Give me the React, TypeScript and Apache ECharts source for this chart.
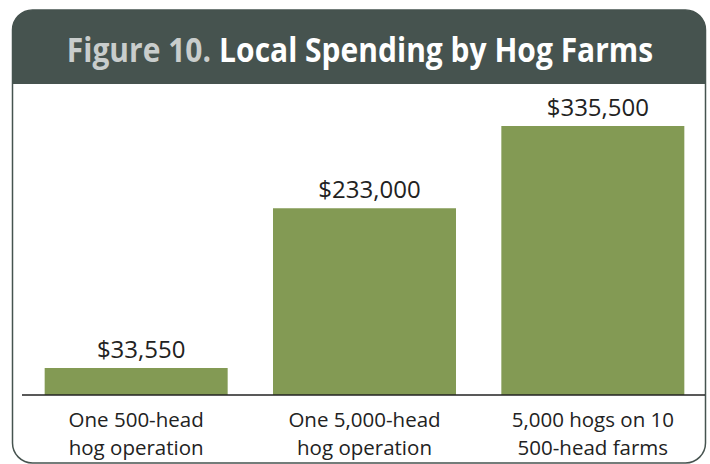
import React, { useEffect, useRef } from "react";
import * as echarts from "echarts";

const categories = ["One 500-head\nhog operation", "One 5,000-head\nhog operation", "5,000 hogs on 10\n500-head farms"];
const values = [33550, 233000, 335500];
const titlePrefix = "Figure 10.";
const titleMain = "Local Spending by Hog Farms";

const fmt = (v: number) => "$" + v.toLocaleString("en-US");

export default function App() {
  const ref = useRef<HTMLDivElement>(null);
  useEffect(() => {
    const chart = echarts.init(ref.current!, null, { renderer: "svg" });
    const dark = "#46534f";
    chart.setOption({
      animation: false,
      backgroundColor: "#ffffff",
      grid: { left: 22, right: 3, top: 126, bottom: 69 },
      xAxis: {
        type: "category",
        data: categories,
        axisLine: { show: false },
        axisTick: { show: false },
        axisLabel: {
          color: "#222222",
          fontFamily: "Open Sans",
          fontSize: 20.5,
          lineHeight: 28,
          margin: 10,
          interval: 0,
        },
      },
      yAxis: {
        type: "value",
        min: 0,
        max: 335500,
        show: false,
        splitLine: { show: false },
      },
      series: [
        {
          type: "bar",
          data: values,
          barWidth: 183,
          itemStyle: { color: "#839a54" },
          label: {
            show: true,
            position: "top",
            distance: 8,
            offset: [5, 0],
            color: "#222222",
            fontFamily: "Open Sans",
            fontSize: 24,
            formatter: (p: any) => fmt(p.value),
          },
        },
      ],
      graphic: [
        {
          type: "rect",
          shape: { x: 12.5, y: 10, width: 693, height: 74, r: [20, 20, 0, 0] },
          style: { fill: dark },
          z: 10,
        },
        {
          type: "rect",
          shape: { x: 12.5, y: 10, width: 693, height: 453, r: 20 },
          style: { fill: "none", stroke: dark, lineWidth: 1.5 },
          z: 11,
        },
        {
          type: "line",
          shape: { x1: 22, y1: 395, x2: 705, y2: 395 },
          style: { stroke: "#222222", lineWidth: 1.5 },
          z: 12,
        },
        {
          type: "text",
          x: 360,
          y: 48,
          scaleY: 1.15,
          z: 13,
          style: {
            text: "{a|" + titlePrefix + "}{s| }{b|" + titleMain + "}",
            align: "center",
            verticalAlign: "middle",
            rich: {
              a: { fontFamily: "Open Sans", fontWeight: "bold", fontSize: 30, fill: "#c9cdcc" },
              s: { fontFamily: "Open Sans", fontWeight: "bold", fontSize: 30, width: 8 },
              b: { fontFamily: "Open Sans", fontWeight: "bold", fontSize: 30, fill: "#ffffff" },
            },
          },
        },
      ],
    });
    return () => chart.dispose();
  }, []);
  return <div ref={ref} style={{ width: 710, height: 464, position: "absolute", left: 0, top: 0 }} />;
}
